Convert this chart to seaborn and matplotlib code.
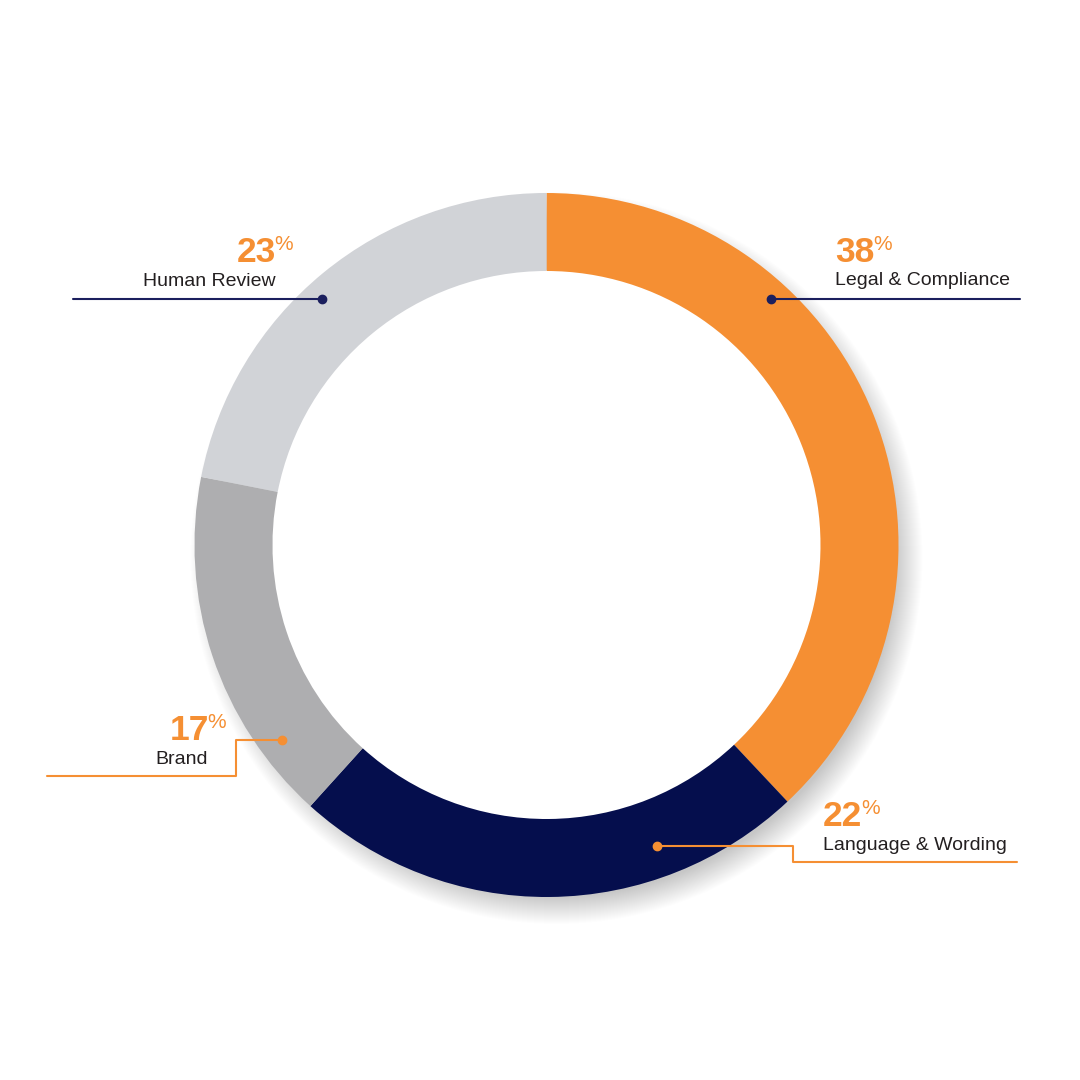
import matplotlib
matplotlib.use("Agg")
import matplotlib.pyplot as plt
import seaborn as sns
from matplotlib.patches import Circle

# ---- data ----
categories = ["Legal & Compliance", "Language & Wording", "Brand", "Human Review"]
arc_shares = [38.0, 23.7, 16.4, 21.9]          # arc sizes as drawn in the picture
pct_labels = ["38", "22", "17", "23"]          # printed percentages
colors = ["#F58F33", "#050E4D", "#AEAEB0", "#D1D3D7"]

sns.set_theme(style="white")
plt.rcParams["font.family"] = ["Liberation Sans", "DejaVu Sans"]

W = 1080
def Y(py):
    return W - py

fig = plt.figure(figsize=(10.8, 10.8), dpi=100)
ax = fig.add_axes([0, 0, 1, 1])

cx, cy = 546.5, Y(545)
R, ring = 352, 78

# soft drop shadow (down-right)
n = 28
for k in range(n, 0, -1):
    ax.add_patch(Circle((cx + 10, cy - 13), R - 14 + k, color="black",
                        alpha=0.006, lw=0, zorder=1))
ax.add_patch(Circle((cx, cy), R - ring + 1, color="white", lw=0, zorder=2))

wedges, _ = ax.pie(arc_shares, colors=colors, startangle=90, counterclock=False,
                   center=(cx, cy), radius=R, frame=True,
                   wedgeprops=dict(width=ring, linewidth=0))
for w in wedges:
    w.set_zorder(3)

ax.set_xlim(0, W)
ax.set_ylim(0, W)
ax.set_aspect("equal")
ax.axis("off")

ORANGE = "#F58F33"
NAVY = "#1B1F5E"
TXT = "#231F20"

def number(x, py, s, ha):
    t = ax.text(x, Y(py), s, ha=ha, va="baseline", fontsize=25.5,
                fontweight="bold", color=ORANGE, zorder=5)
    ax.annotate("%", xy=(1, 1), xycoords=t, xytext=(-1.0, 0.5),
                textcoords="offset points", ha="left", va="top",
                fontsize=15, color=ORANGE, zorder=5)

def label(x, py, s, ha):
    ax.text(x, Y(py), s, ha=ha, va="baseline", fontsize=14, color=TXT, zorder=5)

# Legal & Compliance (38%)
number(835, 262, pct_labels[0], "left")
label(835, 285, categories[0], "left")
ax.plot([771, 1020], [Y(299), Y(299)], color=NAVY, lw=1.5, zorder=4)
ax.plot([771], [Y(299)], "o", ms=6, color=NAVY, zorder=6)

# Human Review (23%)
number(276, 262, pct_labels[3], "right")
label(276, 286, categories[3], "right")
ax.plot([73, 322], [Y(299), Y(299)], color=NAVY, lw=1.5, zorder=4)
ax.plot([322], [Y(299)], "o", ms=6, color=NAVY, zorder=6)

# Brand (17%)
number(209, 740, pct_labels[2], "right")
label(208, 764, categories[2], "right")
ax.plot([282, 236, 236, 47], [Y(740), Y(740), Y(776), Y(776)],
        color=ORANGE, lw=1.5, zorder=4, solid_joinstyle="round")
ax.plot([282], [Y(740)], "o", ms=6, color=ORANGE, zorder=6)

# Language & Wording (22%)
number(823, 826, pct_labels[1], "left")
label(823, 850, categories[1], "left")
ax.plot([657, 793, 793, 1017], [Y(846), Y(846), Y(862), Y(862)],
        color=ORANGE, lw=1.5, zorder=4, solid_joinstyle="round")
ax.plot([657], [Y(846)], "o", ms=6, color=ORANGE, zorder=6)

fig.savefig("out.png", dpi=100, facecolor="white")
